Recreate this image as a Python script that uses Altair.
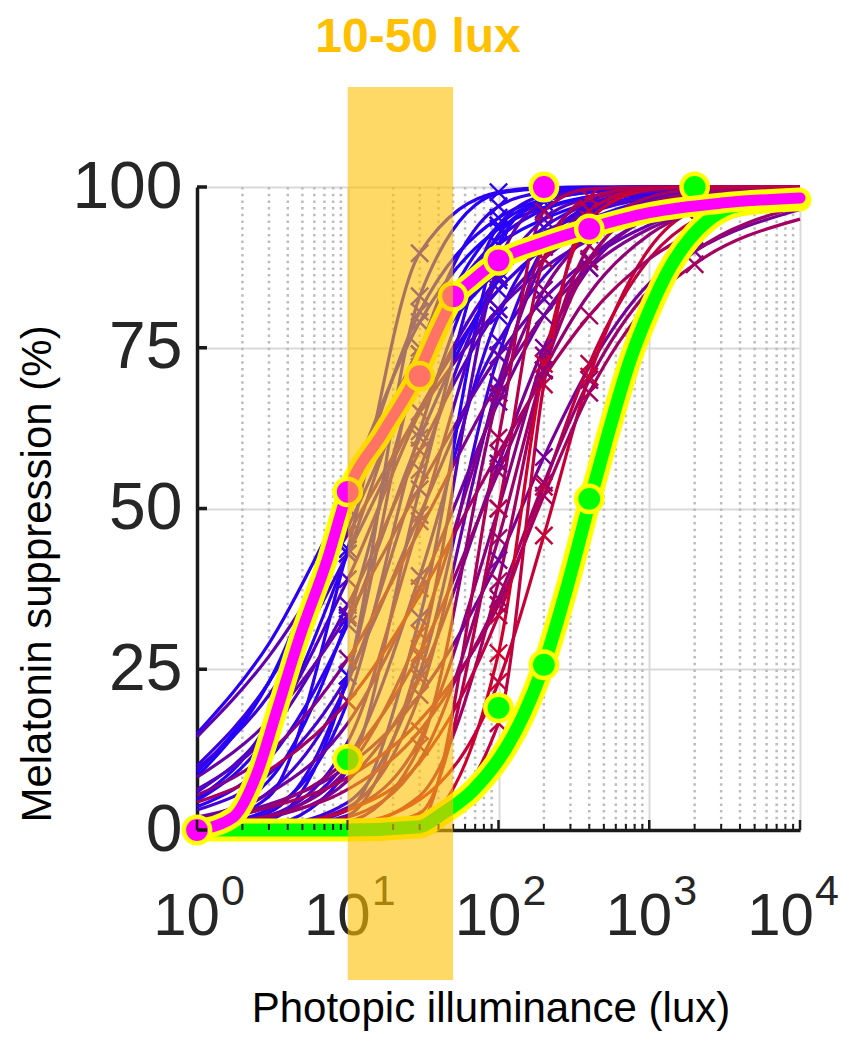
import altair as alt
import pandas as pd

# ---------------- data ----------------
lux_grid = [1, 3, 10, 30, 100, 200, 400, 1000, 2000, 10000]

curves = [
    [15, 29, 52, 72, 87, 92, 95, 98, 99, 100],
    [9, 23, 50, 75, 91, 95, 97.5, 99, 99.5, 100],
    [4.6, 15, 43, 74, 92, 96.5, 98.4, 99.5, 99.8, 100],
    [10, 23, 47, 71, 88, 93, 96, 98.3, 99, 99.8],
    [1.6, 7.7, 33, 72, 94, 97.8, 99.2, 99.8, 100, 100],
    [9.5, 21, 43, 65.5, 84, 90.5, 94.5, 97.4, 98.5, 99.6],
    [3.6, 11, 32, 61, 85.5, 92.6, 96.4, 98.7, 99.4, 99.9],
    [0.3, 2.7, 24, 74, 97, 99.2, 99.8, 100, 100, 100],
    [1.5, 5.9, 23, 56, 86, 93.7, 97.3, 99.2, 99.7, 100],
    [4.8, 17, 50, 80.6, 95.2, 98, 99.2, 99.8, 100, 100],
    [3.1, 8.7, 24, 49, 76, 86, 92.6, 96.9, 98.4, 99.7],
    [0.5, 3.2, 20, 62, 92.6, 97.7, 99.3, 99.8, 100, 100],
    [14.5, 27, 46, 65, 81, 87.4, 91.8, 95.5, 97.2, 99.1],
    [0.4, 2, 11, 39.5, 80, 91.8, 96.9, 99.2, 99.7, 100],
    [0, 0.7, 9.3, 53, 94, 98.7, 99.7, 100, 100, 100],
    [5.9, 16, 39, 65, 86, 92.6, 96.2, 98.4, 99.2, 99.8],
    [8.3, 23, 53, 79, 93.5, 96.8, 98.5, 99.4, 99.7, 100],
    [6.3, 15, 35, 59, 81, 88.8, 93.7, 97.1, 98.4, 99.6],
    [0, 0.2, 3.1, 33, 91, 98.3, 99.8, 100, 100, 100],
    [0, 0.5, 4.3, 24.4, 73.8, 90.7, 97.1, 99.4, 99.8, 100],
    [0, 1.5, 24, 83, 99, 99.8, 100, 100, 100, 100],
    [0.5, 5.2, 43.7, 89.7, 99.2, 99.9, 100, 100, 100, 100],
    [2, 5.7, 16.6, 37.6, 66.6, 80, 88.8, 95.2, 97.5, 99.5],
    [5.4, 12, 26.6, 46.7, 69.6, 80, 87.4, 93.5, 96.2, 98.9],
    [0, 0.4, 3.5, 21, 69.6, 88.8, 96.5, 99.3, 99.8, 100],
    [0.5, 1.9, 7.7, 23.6, 57, 75, 87.4, 95.4, 98, 99.7],
    [8.2, 17, 33.4, 53.3, 73.8, 82.6, 88.8, 94.1, 96.4, 98.9],
    [0.1, 0.5, 3.1, 14, 50, 73.8, 88.8, 96.9, 98.9, 99.9],
    [0, 0.1, 2.3, 27, 88, 97.7, 99.6, 100, 100, 100],
    [1.7, 4, 9.9, 21, 42, 58, 72, 85, 90, 96.5],
    [0.5, 2.2, 9.6, 30.6, 68, 84, 92.6, 97.7, 99, 99.8],
    [0.4, 2.2, 13.7, 48, 86, 95, 98.3, 99.6, 99.9, 100],
    [0, 0, 0.1, 2.6, 50, 88.8, 98.4, 99.9, 100, 100],
    [0, 0.1, 0.6, 5.3, 38.7, 71.5, 90.9, 98.4, 99.6, 100],
    [0.2, 0.7, 3.1, 10.5, 33.4, 53.4, 72.5, 88.8, 94.8, 99.2],
    [0, 0, 0, 1.3, 61, 96.2, 99.7, 100, 100, 100],
    [0.8, 2.2, 6.3, 15.4, 36, 54, 70, 84, 90, 97],
    [0, 0, 0.1, 1.3, 27.5, 72.5, 94.9, 99.6, 100, 100],
    [0, 0.3, 2, 10.8, 45.4, 71.5, 88.4, 97, 99, 99.9],
    [0, 0.2, 0.9, 4.7, 23, 45.8, 70.5, 90.4, 96.4, 99.7],
    [0, 0.1, 1.3, 13, 68, 90.7, 97.8, 99.7, 100, 100],
    [1.6, 3.5, 8.2, 17, 35, 52, 68, 82, 88, 95],
    [0, 0, 0, 0.3, 16.6, 69.3, 96.3, 99.8, 100, 100],
    [1.2, 3.7, 11.2, 27.5, 55.7, 71.5, 83.4, 92.6, 96.2, 99.2],
    [4.3, 9.3, 20, 36.5, 58.6, 70.4, 80, 88.8, 93, 97.8],
]

curve_colors = [0.05, 0.0, 0.08, 0.12, 0.02, 0.15, 0.05, 0.1, 0.18, 0.03, 0.2,
                0.07, 0.35, 0.12, 0.1, 0.25, 0.0, 0.3, 0.05, 0.15, 0.02, 0.06,
                0.45, 0.55, 0.4, 0.5, 0.4, 0.6, 0.35, 0.5, 0.55, 0.3,
                0.85, 0.75, 0.9, 0.8, 0.7, 1.0, 0.7, 0.95, 0.65, 0.75, 0.9, 0.65, 0.75]

curve_markers = [
    [10, 100, 400], [10, 30, 100], [10, 30, 200], [30, 100], [10, 30, 100],
    [10, 100, 400], [10, 30, 100], [10, 30, 100], [30, 100, 200], [10, 30, 100],
    [30, 100, 400], [10, 30, 200], [10, 100], [30, 100, 200], [30, 100],
    [10, 30, 100], [30, 100], [10, 30, 100, 400], [30, 100, 200], [30, 100, 200, 400],
    [10, 30], [10, 30, 100],
    [30, 100, 200], [10, 100, 400], [30, 100, 200], [30, 100, 200, 400], [10, 100, 200],
    [100, 200, 400], [30, 100], [100, 200, 2000], [30, 100, 200], [30, 100, 200],
    [100, 200, 400], [100, 200, 400], [100, 200, 400, 2000], [100, 200], [30, 100, 200, 400],
    [100, 200, 400], [100, 200, 400], [100, 200, 400], [30, 100, 200], [100, 200, 400, 2000],
    [100, 200, 400], [30, 100, 200], [10, 100, 400],
]

# highlighted group curves
mag_lux = [1, 1.74, 2.5, 3.4, 4.8, 7.3, 10, 17, 30, 39, 50, 68, 100, 200, 400, 1000, 3000, 10000]
mag_val = [0, 2, 8.8, 18.7, 30, 42, 52.6, 61.7, 71.5, 77.5, 82.5, 85.6, 88.6, 91.4, 93.6, 96, 97.5, 98.3]
mag_pt_lux = [1, 10, 30, 50, 100, 200, 400]
mag_pt_val = [0, 52.6, 70.6, 83, 88.6, 100, 93.5]

grn_lux = [1, 10, 30, 41, 68, 114, 145, 200, 283, 405, 525, 745, 1012, 1376, 1865, 2516, 4000, 10000]
grn_val = [0, 0, 0.5, 2.3, 6.2, 13, 17.6, 25.7, 37.5, 51.3, 61, 73, 81, 87.5, 92, 95, 97.2, 98]
grn_pt_lux = [10, 100, 200, 400, 2000]
grn_pt_val = [11, 19, 25.7, 51.5, 100]

band_lo, band_hi = 10, 50
decades = [1, 10, 100, 1000, 10000]
exps = ["0", "1", "2", "3", "4"]
minor_lux = [m * d for d in [1, 10, 100, 1000] for m in range(2, 10)]
y_ticks = [0, 25, 50, 75, 100]

# ---------------- tables ----------------
rows, mrows = [], []
for i, (vals, c, mk) in enumerate(zip(curves, curve_colors, curve_markers)):
    for lx, v in zip(lux_grid, vals):
        r = {"id": f"s{i:02d}", "lux": lx, "pct": v, "c": c}
        rows.append(r)
        if lx in mk:
            mrows.append(r)
df_lines = pd.DataFrame(rows)
df_marks = pd.DataFrame(mrows)
df_mag = pd.DataFrame({"lux": mag_lux, "pct": mag_val})
df_magp = pd.DataFrame({"lux": mag_pt_lux, "pct": mag_pt_val})
df_grn = pd.DataFrame({"lux": grn_lux, "pct": grn_val})
df_grnp = pd.DataFrame({"lux": grn_pt_lux, "pct": grn_pt_val})
df_band = pd.DataFrame({"lux": [band_lo], "b": [band_hi]})
df_dec = pd.DataFrame({"lux": decades, "exp": exps})
df_dec_a = df_dec.iloc[:-1]
df_dec_b = df_dec.iloc[-1:]
df_minor = pd.DataFrame({"lux": minor_lux})
df_yt = pd.DataFrame({"pct": y_ticks})

W, H = 603, 643
FONT = "Liberation Sans"
YEL = "#ffff00"
xs = alt.Scale(type="log", domain=[1, 10000], nice=False)
ys = alt.Scale(domain=[0, 100], nice=False, zero=False)
AXX = alt.Axis(values=decades, labels=False, ticks=False, tickSize=0, title=None,
               grid=True, gridColor="#dadada", gridWidth=2,
               domainColor="#1a1a1a", domainWidth=3.5)
AXY = alt.Axis(values=y_ticks, labelFontSize=66, labelFont=FONT, labelColor="#262626",
               labelPadding=15, ticks=False, tickSize=0, title=None, labelOverlap=False,
               grid=True, gridColor="#dadada", gridWidth=2,
               domainColor="#1a1a1a", domainWidth=3.5)


def X(f="lux"):
    return alt.X(f"{f}:Q", scale=xs, axis=AXX)


def Y(f="pct"):
    return alt.Y(f"{f}:Q", scale=ys, axis=AXY)


CSCALE = alt.Scale(domain=[0, 1], range=["#2200ff", "#d0002c"], interpolate="rgb")

minor_grid = alt.Chart(df_minor).mark_rule(
    color="#bcbcbc", strokeWidth=2.5, strokeDash=[2.5, 4.2]
).encode(x=X())

lines = alt.Chart(df_lines).mark_line(strokeWidth=3.2, interpolate="monotone").encode(
    x=X(), y=Y(),
    color=alt.Color("c:Q", scale=CSCALE, legend=None),
    detail="id:N",
)

marks = alt.Chart(df_marks).mark_point(
    shape="M-1,-1L1,1M1,-1L-1,1", filled=False, size=300, strokeWidth=2.4, opacity=1
).encode(x=X(), y=Y(), color=alt.Color("c:Q", scale=CSCALE, legend=None))

g_out = alt.Chart(df_grn).mark_line(color=YEL, strokeWidth=23, interpolate="monotone",
                                    strokeCap="round", strokeJoin="round").encode(x=X(), y=Y())
g_in = alt.Chart(df_grn).mark_line(color="#00ff00", strokeWidth=13, interpolate="monotone",
                                   strokeCap="round", strokeJoin="round").encode(x=X(), y=Y())
g_pts = alt.Chart(df_grnp).mark_point(shape="circle", filled=True, fill="#00ff00", stroke=YEL,
                                      strokeWidth=4.5, size=690, opacity=1).encode(x=X(), y=Y())

m_out = alt.Chart(df_mag).mark_line(color=YEL, strokeWidth=21, interpolate="monotone",
                                    strokeCap="round", strokeJoin="round").encode(x=X(), y=Y())
m_in = alt.Chart(df_mag).mark_line(color="#ff00ff", strokeWidth=11, interpolate="monotone",
                                   strokeCap="round", strokeJoin="round").encode(x=X(), y=Y())
m_pts = alt.Chart(df_magp).mark_point(shape="circle", filled=True, fill="#ff00ff", stroke=YEL,
                                      strokeWidth=4.5, size=690, opacity=1).encode(x=X(), y=Y())

xt_major = alt.Chart(df_dec).mark_rule(color="#1a1a1a", strokeWidth=2.5).encode(
    x=X(), y=alt.value(H), y2=alt.value(H - 10))
xt_minor = alt.Chart(df_minor).mark_rule(color="#1a1a1a", strokeWidth=2).encode(
    x=X(), y=alt.value(H), y2=alt.value(H - 6))
yt = alt.Chart(df_yt).mark_rule(color="#1a1a1a", strokeWidth=3.5).encode(
    y=Y(), x=alt.value(0), x2=alt.value(10))


def xlabels(df, shift):
    base = alt.Chart(df).mark_text(
        text="10", align="right", baseline="alphabetic", fontSize=60, font=FONT,
        color="#262626", dx=23 - shift).encode(x=X(), y=alt.value(H + 105))
    exp = alt.Chart(df).mark_text(
        align="left", baseline="alphabetic", fontSize=43, font=FONT,
        color="#262626", dx=24 - shift).encode(x=X(), y=alt.value(H + 75), text="exp:N")
    return [base, exp]


xlab_layers = xlabels(df_dec_a, 0) + xlabels(df_dec_b, 9)

xtitle = alt.Chart(pd.DataFrame({"t": ["Photopic illuminance (lux)"]})).mark_text(
    align="center", baseline="alphabetic", fontSize=42, font=FONT, color="#000000"
).encode(x=alt.value(294), y=alt.value(835), text="t:N")
ytitle = alt.Chart(pd.DataFrame({"t": ["Melatonin suppression (%)"]})).mark_text(
    align="center", baseline="alphabetic", fontSize=42, font=FONT, color="#000000", angle=270
).encode(x=alt.value(-146), y=alt.value(387), text="t:N")

band = alt.Chart(df_band).mark_rect(color="#ffc000", opacity=0.6).encode(
    x=X(), x2="b:Q", y=alt.value(-100), y2=alt.value(793))

title = alt.Chart(pd.DataFrame({"t": ["10-50 lux"]})).mark_text(
    align="center", baseline="alphabetic", fontSize=48, font=FONT, fontWeight="bold",
    color="#ffc000").encode(x=alt.value(221), y=alt.value(-135), text="t:N")

chart = alt.layer(
    minor_grid, lines, marks, g_out, g_in, g_pts, m_out, m_in, m_pts,
    xt_major, xt_minor, yt, *xlab_layers, xtitle, ytitle, band, title
).properties(
    width=W, height=H,
    autosize=alt.AutoSizeParams(type="none"),
    padding={"left": 189, "top": 179, "right": 40, "bottom": 202},
).configure_view(stroke=None)

chart.save("out.html", embed_options={"renderer": "svg", "actions": False})
